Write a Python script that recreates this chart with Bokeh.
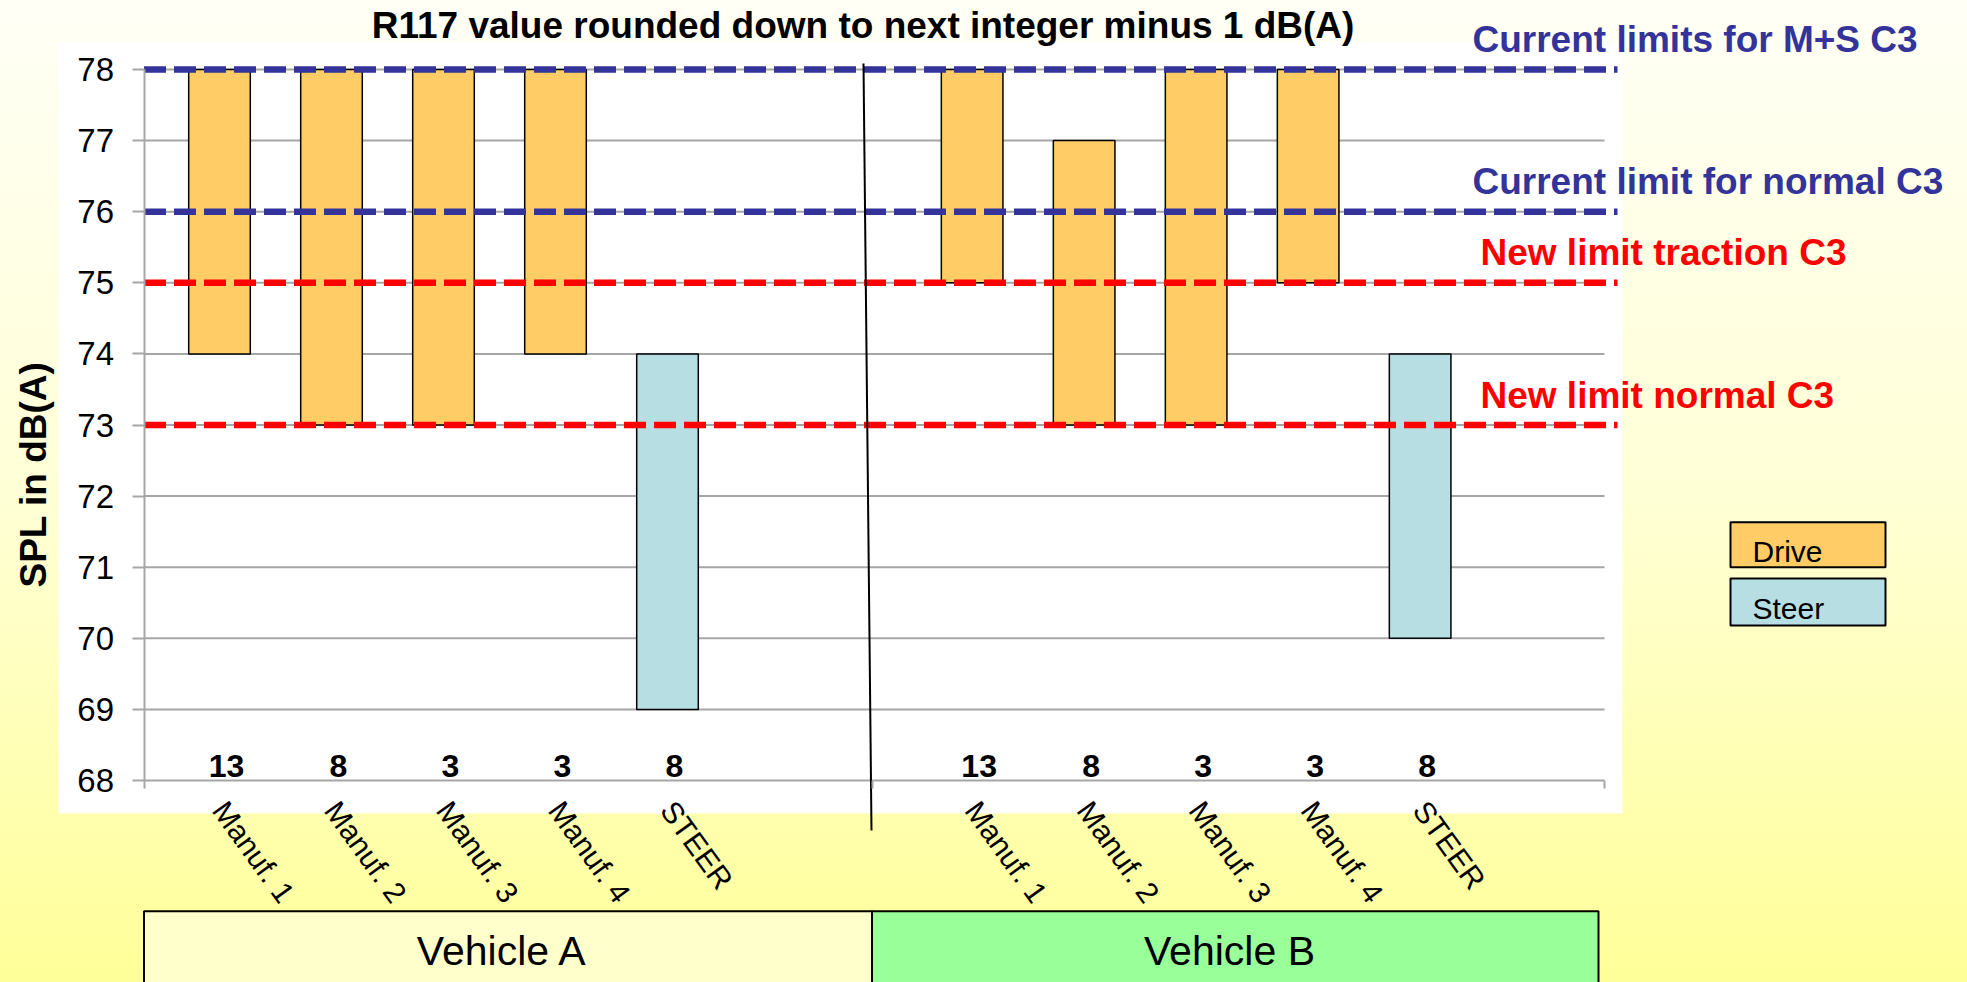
import math
from bokeh.plotting import figure
from bokeh.models import Range1d, FixedTicker
from bokeh.core.properties import value
from bokeh.embed import file_html
from bokeh.resources import INLINE

# ---------------- data ----------------
categories = ["Manuf. 1", "Manuf. 2", "Manuf. 3", "Manuf. 4", "STEER"]
bar_type = ["Drive", "Drive", "Drive", "Drive", "Steer"]
counts = [13, 8, 3, 3, 8]
veh_a_low = [74, 73, 73, 74, 69]
veh_a_high = [78, 78, 78, 78, 74]
veh_b_low = [75, 73, 73, 75, 70]
veh_b_high = [78, 77, 78, 78, 74]
vehicles = ["Vehicle  A", "Vehicle  B"]
limit_values = [78, 76, 75, 73]
limit_labels = ["Current limits for M+S C3", "Current limit for normal C3",
                "New limit traction C3", "New limit normal C3"]
y_ticks = list(range(68, 79))
legend_labels = ["Drive", "Steer"]
title_text = "R117 value rounded down to next integer  minus 1 dB(A)"
y_label = "SPL in dB(A)"

# ---------------- styling / layout ----------------
FONT = value("Liberation Sans")
W, H = 1967, 982
X0, UX = 219.0, 112.0      # page px of first category, px per category
Y68, UY = 780.0, 71.1      # page px of y=68, px per dB
B_SHIFT = 6.72             # category offset of vehicle B group
FIX = -12                  # baseline correction for text glyphs (px)
type_color = {"Drive": "#FFCC66", "Steer": "#B7DEE2"}
limit_color = ["#333399", "#333399", "#FF0000", "#FF0000"]
veh_color = ["#FFFFCC", "#99FF99"]
GRID = "#A6A6A6"


def dx(px):
    return (px - X0) / UX


def dy(py):
    return 68 + (Y68 - py) / UY


p = figure(width=W, height=H, output_backend="svg", toolbar_location=None,
           x_range=Range1d(dx(0), dx(W)),
           y_range=Range1d(dy(H), dy(0)),
           min_border=0, outline_line_color=None,
           background_fill_color=None, border_fill_color=None)
p.styles = {"background": "linear-gradient(to bottom, #FFFFF6 0%, #FFFFD6 50%, #FFFF99 100%)"}
p.grid.grid_line_color = None

# white chart panel
p.quad(left=dx(58), right=dx(1622), top=dy(42), bottom=dy(813),
       fill_color="white", line_color=None)

# grid lines
p.segment(x0=dx(143.5), x1=dx(1604), y0=y_ticks, y1=y_ticks,
          line_color=GRID, line_width=2)

# bars
xa = [float(i) for i in range(len(categories))]
xb = [i + B_SHIFT for i in range(len(categories))]
colors = [type_color[t] for t in bar_type]
p.vbar(x=xa + xb, width=0.55, bottom=veh_a_low + veh_b_low, top=veh_a_high + veh_b_high,
       fill_color=colors + colors, line_color="black", line_width=1.5)

# limit lines
p.segment(x0=dx(143.5), x1=dx(1617), y0=limit_values, y1=limit_values,
          line_color=limit_color, line_width=6.5, line_dash="22 8")
p.text(x=[dx(1472), dx(1472), dx(1480), dx(1480)], y=limit_values, y_offset=-18 + FIX,
       text=limit_labels, text_color=limit_color, text_font=FONT,
       text_font_size="37px", text_font_style="bold", text_baseline="alphabetic")

# divider
p.segment(x0=dx(863), y0=dy(63), x1=dx(871), y1=dy(830), line_color="black", line_width=2)

# counts
p.text(x=xa + xb, y=68, x_offset=7, y_offset=-3 + FIX, text=[str(c) for c in counts] * 2,
       text_font=FONT, text_font_size="32px", text_font_style="bold",
       text_align="center", text_baseline="alphabetic", text_color="black")

# vehicle boxes
p.quad(left=[dx(143.5), dx(871.5)], right=[dx(871.5), dx(1598)],
       top=dy(910.7), bottom=dy(1000), fill_color=veh_color,
       line_color="black", line_width=2)
p.text(x=[dx(507.5), dx(1234.7)], y=dy(962.7), y_offset=FIX, text=vehicles, text_font=FONT,
       text_font_size="41px", text_align="center", text_baseline="alphabetic",
       text_color="black")

# legend
p.quad(left=dx(1730), right=dx(1885), top=[dy(521.7), dy(578)], bottom=[dy(566.7), dy(625)],
       fill_color=[type_color[t] for t in legend_labels], line_color="black", line_width=2)
p.text(x=dx(1752), y=[dy(563), dy(620)], y_offset=FIX, text=legend_labels, text_font=FONT,
       text_font_size="30px", text_baseline="alphabetic", text_color="black")

# title and y label
p.text(x=dx(867.7), y=dy(37.3), y_offset=FIX, text=[title_text], text_font=FONT,
       text_font_size="37px", text_font_style="bold", text_align="center",
       text_baseline="alphabetic", text_color="black")
p.text(x=dx(33), y=dy(474), text=[y_label], angle=math.pi / 2, text_font=FONT,
       text_font_size="37px", text_font_style="bold", text_align="center",
       text_baseline="middle", text_color="black")

# axes
ya = p.yaxis[0]
ya.fixed_location = dx(143.5)
ya.bounds = (68, 78)
ya.ticker = FixedTicker(ticks=y_ticks)
ya.axis_line_color = GRID
ya.axis_line_width = 2
ya.major_tick_out = 12
ya.major_tick_in = 0
ya.major_tick_line_color = GRID
ya.major_tick_line_width = 2
ya.minor_tick_line_color = None
ya.major_label_text_font = "Liberation Sans"
ya.major_label_text_font_size = "33px"
ya.major_label_text_color = "black"
ya.major_label_standoff = 18

xax = p.xaxis[0]
xax.fixed_location = 68
xax.bounds = (dx(143.5) - 0.01, dx(1604) + 0.01)
xax.ticker = FixedTicker(ticks=xa + xb, minor_ticks=[dx(143.5), dx(871.5), dx(1604)])
xax.major_label_overrides = {x: c for x, c in zip(xa + xb, categories * 2)}
xax.major_label_orientation = -0.945
xax.axis_line_color = None
xax.major_tick_line_color = None
xax.major_tick_out = 0
xax.major_tick_in = 0
xax.minor_tick_out = 8
xax.minor_tick_in = 0
xax.minor_tick_line_color = GRID
xax.minor_tick_line_width = 2
xax.major_label_text_font = "Liberation Sans"
xax.major_label_text_font_size = "30px"
xax.major_label_text_color = "black"
xax.major_label_standoff = 16

open("out.html", "w").write(file_html(p, INLINE))
